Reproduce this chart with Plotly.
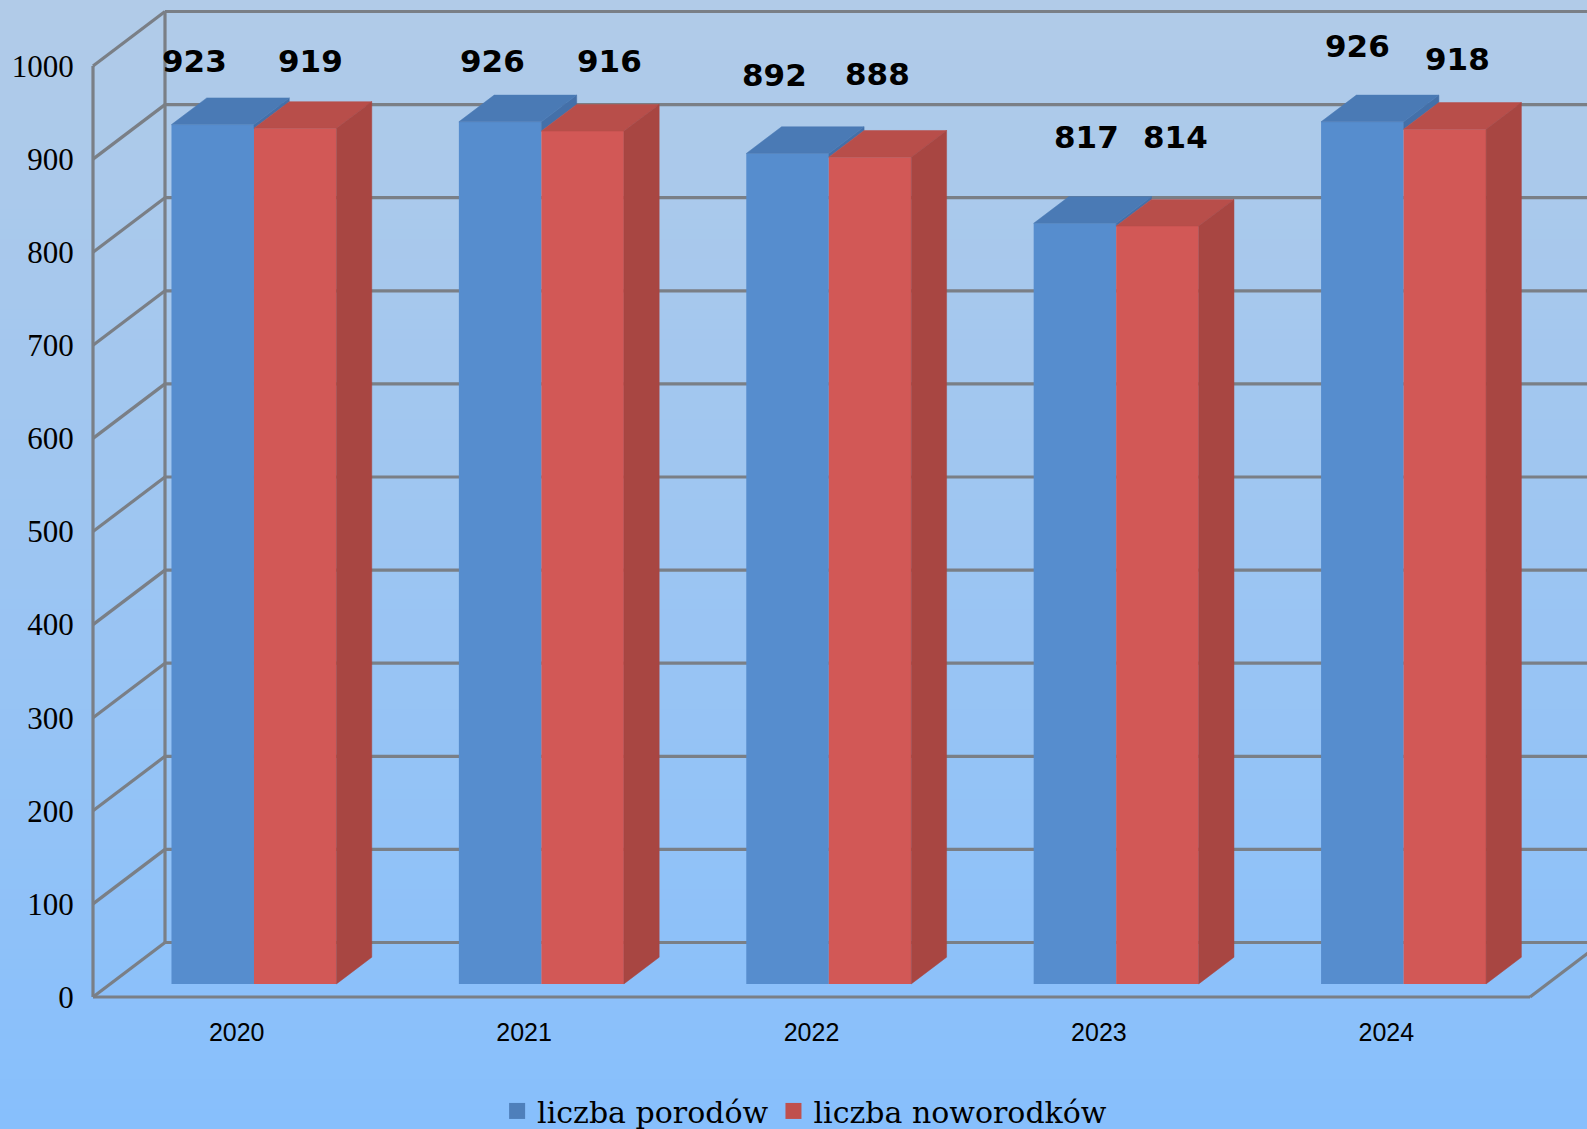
import plotly.graph_objects as go

# ---- data -------------------------------------------------------------
years = ["2020", "2021", "2022", "2023", "2024"]
porody = [923, 926, 892, 817, 926]
noworodki = [919, 916, 888, 814, 918]
series_names = ["liczba porodów", "liczba noworodków"]
y_ticks = [0, 100, 200, 300, 400, 500, 600, 700, 800, 900, 1000]

# manual label nudges in pixels (dx, dy) relative to each bar's top centre
nudge_porody = [(-18.5, -64), (-8, -61), (-14, -78.5), (11, -86), (-5.5, -76)]
nudge_noworodki = [(15, -67), (26, -70), (7, -83), (18, -89), (12, -70)]

# ---- geometry / style --------------------------------------------------
W, H = 1587, 1129
PX_LEFT, PX_FLOOR, PX_TOP = 93, 997, 66
PX_PER_CAT = 287.4
PX_PER_VAL = (PX_FLOOR - PX_TOP) / 1000
PAD = 6
WALL_DX = 72 / PX_PER_CAT      # depth of the chart box, in category units
WALL_DY = 54.5 / PX_PER_VAL    # depth of the chart box, in value units
BAR_DX = 35.3 / PX_PER_CAT
BAR_DY = 26.7 / PX_PER_VAL
BASE_DEPTH = 0.24              # where the bars' front face sits in the box
BAR_SHIFT = BASE_DEPTH * WALL_DX
BAR_BASE = BASE_DEPTH * WALL_DY
BAR_W = 82.5 / PX_PER_CAT

x0 = -0.5
x_end = x0 + len(years)
grid_color = "#7a7f86"
grid_w = 3.2

BLUE = dict(front="#568dce", top="#4a7ab5", side="#4470a9", legend="#4e7fbb")
RED = dict(front="#d25856", top="#b84e4a", side="#a84642", legend="#c0504d")

GRAD_TOP = (177, 203, 232)
GRAD_BOT = (135, 191, 252)
N_BANDS = 113

xs = list(range(len(years)))


def poly(points_list):
    px, py = [], []
    for pts in points_list:
        for a, b in pts:
            px.append(a)
            py.append(b)
        px.append(pts[0][0])
        py.append(pts[0][1])
        px.append(None)
        py.append(None)
    return px, py


def face_trace(points_list, color):
    px, py = poly(points_list)
    return go.Scatter(x=px, y=py, mode="lines", fill="toself", fillcolor=color,
                      line=dict(width=0.5, color=color), hoverinfo="skip", showlegend=False)


fig = go.Figure()

# front faces
for name, vals, col in [(series_names[0], porody, BLUE), (series_names[1], noworodki, RED)]:
    fig.add_trace(go.Bar(x=[i + BAR_SHIFT for i in xs], y=vals, base=BAR_BASE, name=name,
                         marker=dict(color=col["front"], line=dict(width=0)),
                         showlegend=False))

# 3D faces computed from the values
blue_top, blue_side, red_top, red_side = [], [], [], []
for i, (b, r) in enumerate(zip(porody, noworodki)):
    c = i + BAR_SHIFT
    yb, yr = b + BAR_BASE, r + BAR_BASE
    l, m, rr = c - BAR_W, c, c + BAR_W
    blue_top.append([(l, yb), (m, yb), (m + BAR_DX, yb + BAR_DY), (l + BAR_DX, yb + BAR_DY)])
    blue_side.append([(m, yb), (m + BAR_DX, yb + BAR_DY), (m + BAR_DX, yr + BAR_DY), (m, yr)])
    red_top.append([(m, yr), (rr, yr), (rr + BAR_DX, yr + BAR_DY), (m + BAR_DX, yr + BAR_DY)])
    red_side.append([(rr, BAR_BASE), (rr + BAR_DX, BAR_BASE + BAR_DY),
                     (rr + BAR_DX, yr + BAR_DY), (rr, yr)])
fig.add_trace(face_trace(blue_side, BLUE["side"]))
fig.add_trace(face_trace(blue_top, BLUE["top"]))
fig.add_trace(face_trace(red_top, RED["top"]))
fig.add_trace(face_trace(red_side, RED["side"]))

# legend entries
for name, col in [(series_names[0], BLUE), (series_names[1], RED)]:
    fig.add_trace(go.Scatter(x=[None], y=[None], mode="markers", name=name,
                             marker=dict(symbol="square", size=18, color=col["legend"])))

# background gradient
shapes = []
for k in range(N_BANDS):
    t = k / (N_BANDS - 1)
    c = tuple(round(a + (b - a) * t) for a, b in zip(GRAD_TOP, GRAD_BOT))
    plot_h = PX_FLOOR + PAD
    y_hi = 1 - (k / N_BANDS * H) / plot_h
    shapes.append(dict(type="rect", xref="paper", yref="paper", layer="below",
                       x0=-(PX_LEFT - PAD) / (W - PX_LEFT + PAD), x1=1.01, y0=1 - H / plot_h, y1=y_hi,
                       fillcolor=f"rgb({c[0]},{c[1]},{c[2]})", line=dict(width=0)))


def grid_line(xa, ya, xb, yb):
    shapes.append(dict(type="line", xref="x", yref="y", layer="below", x0=xa, y0=ya, x1=xb, y1=yb,
                       line=dict(color=grid_color, width=grid_w)))


for v in y_ticks:
    grid_line(x0 + WALL_DX, v + WALL_DY, x_end + WALL_DX, v + WALL_DY)
    grid_line(x0, v, x0 + WALL_DX, v + WALL_DY)
grid_line(x0, 0, x0, y_ticks[-1])
grid_line(x0 + WALL_DX, WALL_DY, x0 + WALL_DX, y_ticks[-1] + WALL_DY)
grid_line(x0, 0, x_end, 0)
grid_line(x_end, 0, x_end + WALL_DX, WALL_DY)

# data labels
annotations = []
for vals, nudges, off in [(porody, nudge_porody, -BAR_W / 2), (noworodki, nudge_noworodki, BAR_W / 2)]:
    for i, (v, n) in enumerate(zip(vals, nudges)):
        annotations.append(dict(x=i + BAR_SHIFT + off, y=v + BAR_BASE, xref="x", yref="y",
                                text=str(v), showarrow=False, xanchor="center", yanchor="middle",
                                xshift=n[0] + 0.5, yshift=-n[1],
                                font=dict(family="DejaVu Sans", size=31, color="black", weight="bold")))

plot_right_val = x0 + (W - PX_LEFT) / PX_PER_CAT
fig.update_layout(
    width=W, height=H,
    margin=dict(l=PX_LEFT - PAD, r=0, t=0, b=H - PX_FLOOR - PAD, pad=0),
    paper_bgcolor="rgb(135,191,252)", plot_bgcolor="rgba(0,0,0,0)",
    barmode="group", bargap=1 - 2 * BAR_W, bargroupgap=0,
    shapes=shapes, annotations=annotations,
    xaxis=dict(range=[x0 - PAD / PX_PER_CAT, plot_right_val], tickmode="array", tickvals=xs, ticktext=years,
               showgrid=False, zeroline=False, showline=False, ticks="outside", ticklen=7,
               tickcolor="rgba(0,0,0,0)",
               tickfont=dict(family="Liberation Sans", size=25, color="black")),
    yaxis=dict(range=[-PAD / PX_PER_VAL, PX_FLOOR / PX_PER_VAL], tickmode="array", tickvals=y_ticks,
               showgrid=False, zeroline=False, showline=False, ticks="outside", ticklen=6,
               tickcolor="rgba(0,0,0,0)",
               tickfont=dict(family="Liberation Serif", size=31, color="black")),
    legend=dict(orientation="h", x=0.507, xref="container", xanchor="center", y=0.016, yref="container",
                yanchor="middle", font=dict(family="DejaVu Serif", size=30, color="black"),
                bgcolor="rgba(0,0,0,0)", itemwidth=30),
)

fig.write_html("out.html", post_script="document.body.style.margin='0';",
               config=dict(displayModeBar=False))
